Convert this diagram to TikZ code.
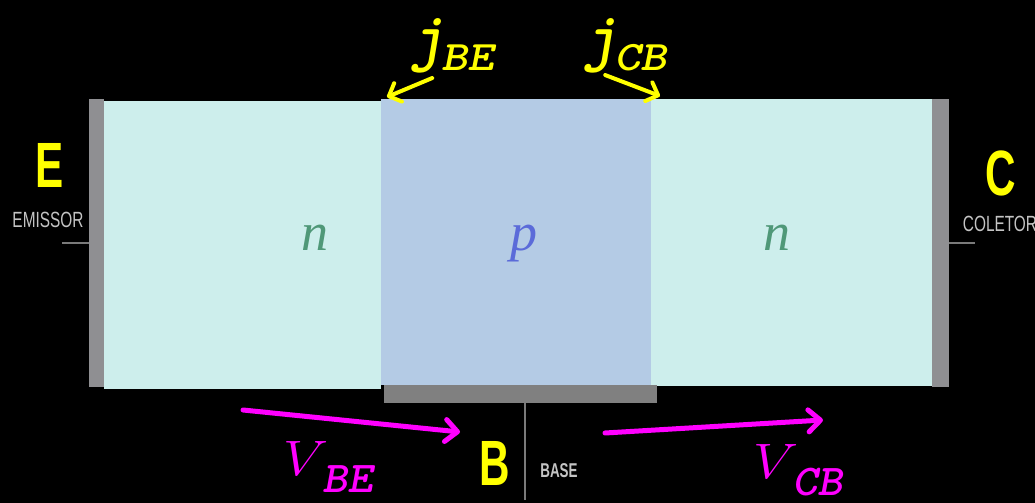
\documentclass[tikz,border=0pt]{standalone}
\usepackage{fontspec}
\newfontfamily\labelsans{Liberation Sans}
\newfontfamily\layerserif{Liberation Serif}
\usetikzlibrary{arrows.meta, positioning}
\definecolor{colN}{HTML}{CDEEEC}
\definecolor{colP}{HTML}{B4CBE5}
\definecolor{colPlate}{HTML}{8F8F92}
\definecolor{colBasePlate}{HTML}{808080}
\definecolor{colLead}{HTML}{7A7A7A}
\definecolor{colTerm}{HTML}{FFFF00}
\definecolor{colName}{HTML}{C4C4C4}
\definecolor{colVolt}{HTML}{FF00FF}
\definecolor{colNtext}{HTML}{4F9878}
\definecolor{colPtext}{HTML}{5B6BD9}

\newcommand{\termletter}[1]{\scalebox{0.66}[1]{\labelsans\bfseries\fontsize{32}{32}\selectfont #1}}
\newcommand{\pinname}[1]{\scalebox{0.7}[1]{\labelsans\fontsize{11}{11}\selectfont #1}}
\newcommand{\junclabel}[1]{{\fontsize{33}{33}\selectfont\ttfamily\bfseries\slshape j}\kern-2pt\raisebox{-6pt}{\scalebox{1.2}[1]{\fontsize{21}{21}\selectfont\ttfamily\bfseries\slshape #1}}}
\newcommand{\voltlabel}[1]{\scalebox{1.15}[1]{\fontsize{33}{33}\selectfont$V$}\kern-3pt\raisebox{-8.5pt}{\scalebox{1.1}[1]{\fontsize{22}{22}\selectfont\ttfamily\bfseries\slshape #1}}}

\begin{document}
\begin{tikzpicture}[
		x=0.5pt, y=-0.5pt,
		region/.style={inner sep=0pt, outer sep=0pt, anchor=north west},
		plate/.style={region, fill=colPlate},
		layer/.style={font=\layerserif\itshape\fontsize{27}{27}\selectfont, anchor=base},
		term/.style={text=colTerm, anchor=base, inner sep=0pt},
		pin/.style={text=colName, anchor=base, inner sep=0pt},
		lead/.style={draw=colLead, line width=1pt},
		jarrow/.style={-{Straight Barb[length=5pt, width=10pt, round]}, line width=2pt, draw=colTerm, line cap=round},
		varrow/.style={-{Straight Barb[length=6pt, width=11pt, round]}, line width=2.5pt, draw=colVolt, line cap=round}
	]
		% ===== background =====
		\fill[black] (0,0) rectangle (1035,503);
		\useasboundingbox (0,0) rectangle (1035,503);

		% ===== crystal: n - p - n =====
		\node[plate, minimum width=7.5pt, minimum height=144pt] (emitPlate) at (89,99) {};
		\node[region, fill=colN, minimum width=138.5pt, minimum height=144pt] (emitN) at (104,101) {};
		\node[region, fill=colP, minimum width=135pt, minimum height=143pt] (baseP) at (381,99) {};
		\node[region, fill=colN, minimum width=140.5pt, minimum height=143.5pt] (collN) at (651,99) {};
		\node[plate, minimum width=8.5pt, minimum height=144pt] (collPlate) at (932,99) {};
		\node[region, fill=colBasePlate, minimum width=136.5pt, minimum height=9pt] (basePlate) at (384,385) {};

		% Doping labels
		\node[layer, text=colNtext] (nE) at (315,250) {n};
		\node[layer, text=colPtext] (pB) at (524,250) {p};
		\node[layer, text=colNtext] (nC) at (777,250) {n};

		% ===== terminals =====
		\coordinate (eLead) at (62,243);
		\coordinate (cLead) at (975,243);
		\coordinate (bLead) at (525,500);
		\draw[lead] (emitPlate.west) -- (eLead);
		\draw[lead] (collPlate.east) -- (cLead);
		\draw[lead] (basePlate.south -| bLead) -- (bLead);

		\node[term] (tE) at (50,187) {\termletter{E}};
		\node[pin] (nameE) at (48,227) {\pinname{EMISSOR}};
		\node[term] (tC) at (1001,195) {\termletter{C}};
		\node[pin] (nameC) at (1000,231) {\pinname{COLETOR}};
		\node[term] (tB) at (495,485) {\termletter{B}};
		\node[pin] (nameB) at (559,477) {\scalebox{0.67}[1]{\labelsans\bfseries\fontsize{10}{10}\selectfont BASE}};

		% ===== junctions =====
		\node[text=colTerm, anchor=base west, inner sep=0pt] (jBE) at (410,58) {\junclabel{BE}};
		\node[text=colTerm, anchor=base west, inner sep=0pt] (jCB) at (583,58) {\junclabel{CB}};
		\draw[jarrow] ([shift={(-20,5)}]jBE.south) -- ([shift={(6,-4)}]emitN.north east);
		\draw[jarrow] ([shift={(-20,2)}]jCB.south) -- ([shift={(9,-3)}]collN.north west);

		% ===== voltages =====
		\coordinate (vbeTail) at (243,410);
		\coordinate (vbeHead) at (460,432);
		\coordinate (vcbTail) at (605,433);
		\coordinate (vcbHead) at (823,420);
		\draw[varrow] (vbeTail) -- (vbeHead);
		\draw[varrow] (vcbTail) -- (vcbHead);
		\node[text=colVolt, anchor=base west, inner sep=0pt] (vBE) at (283,475) {\voltlabel{BE}};
		\node[text=colVolt, anchor=base west, inner sep=0pt] (vCB) at (753,478) {\voltlabel{CB}};
	\end{tikzpicture}
\end{document}
